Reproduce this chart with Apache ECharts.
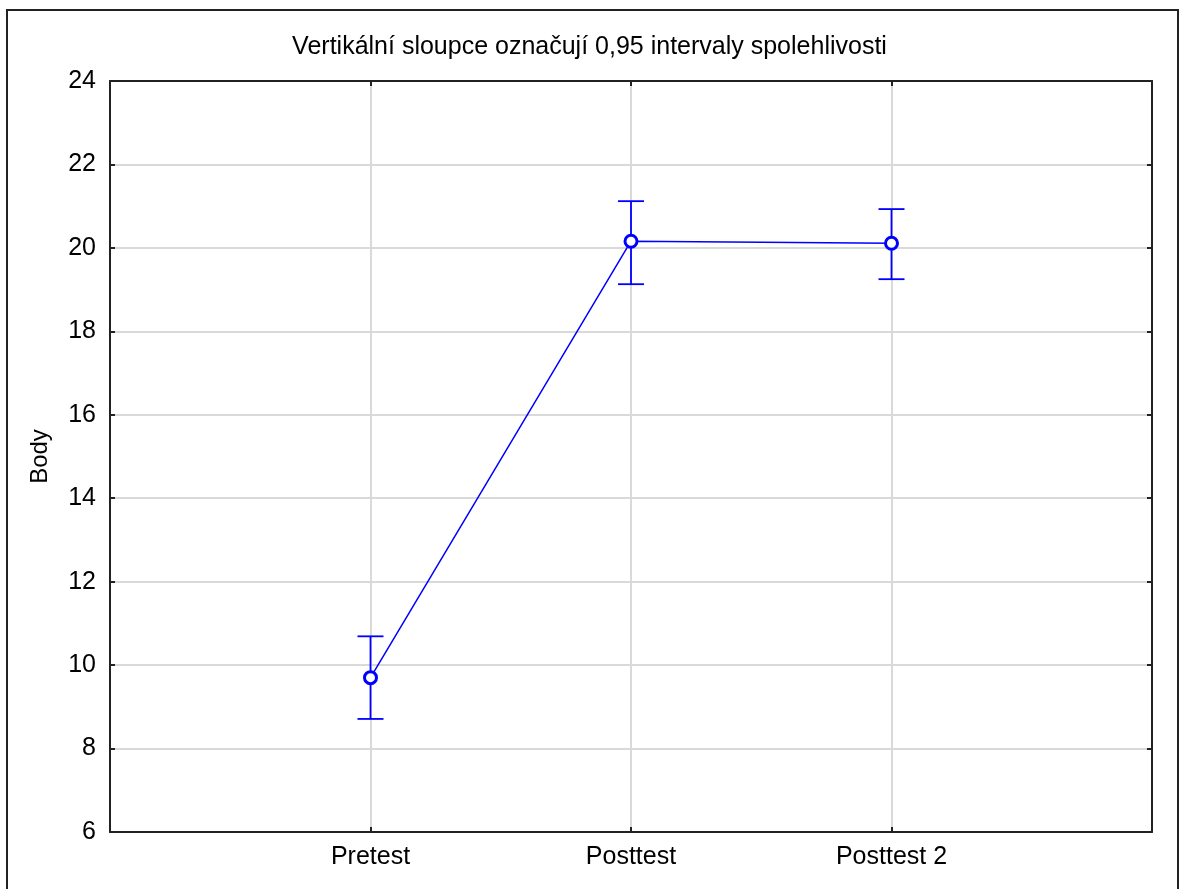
<!DOCTYPE html>
<html>
<head>
<meta charset="utf-8">
<script src="https://cdn.jsdelivr.net/npm/echarts@6/dist/echarts.min.js"></script>
<style>
  html, body { margin: 0; padding: 0; background: #fff; }
  #chart { width: 1179px; height: 889px; }
</style>
</head>
<body>
<div id="chart"></div>
<script>
// categories (blank ends give the empty margins left and right)
var categories = ["", "Pretest", "Posttest", "Posttest 2", ""];
var means = ["-", 9.70, 20.16, 20.11, "-"];
var ciLow = [8.71, 19.13, 19.25];
var ciHigh = [10.69, 21.12, 20.93];
var ciIndex = [1, 2, 3];
var yTicks = { min: 6, max: 24, interval: 2 };

var blue = "#0000ff";
var font = "Liberation Sans, Arial, sans-serif";

var errData = ciIndex.map(function (c, i) {
  return [c, ciLow[i], ciHigh[i]];
});

var myChart = echarts.init(document.getElementById("chart"));
var option = {
  animation: false,
  title: {
    text: "Vertikální sloupce označují 0,95 intervaly spolehlivosti",
    left: "center",
    top: 30,
    textStyle: { fontFamily: font, fontSize: 25, fontWeight: "normal", color: "#000" }
  },
  graphic: [{
    type: "rect",
    shape: { x: 7, y: 10, width: 1171, height: 900 },
    style: { fill: "none", stroke: "#222", lineWidth: 2 },
    silent: true
  }],
  grid: { left: 110, right: 27, top: 81, bottom: 57, show: false },
  xAxis: [{
    type: "category",
    data: categories,
    boundaryGap: false,
    axisLine: { lineStyle: { color: "#222", width: 2 } },
    axisTick: { inside: true, length: 5, lineStyle: { color: "#222", width: 2 } },
    axisLabel: { fontFamily: font, fontSize: 25, color: "#000", margin: 13 },
    splitLine: { show: true, lineStyle: { color: "#d9d9d9", width: 2 } }
  }, {
    type: "category",
    data: categories,
    position: "top",
    boundaryGap: false,
    axisLine: { lineStyle: { color: "#222", width: 2 } },
    axisTick: { inside: true, length: 5, lineStyle: { color: "#222", width: 2 } },
    axisLabel: { show: false },
    splitLine: { show: false }
  }],
  yAxis: [{
    type: "value",
    min: yTicks.min, max: yTicks.max, interval: yTicks.interval,
    name: "Body",
    nameLocation: "middle",
    nameGap: 58,
    nameTextStyle: { fontFamily: font, fontSize: 24, color: "#000" },
    axisLine: { show: true, lineStyle: { color: "#222", width: 2 } },
    axisTick: { show: true, inside: true, length: 5, lineStyle: { color: "#222", width: 2 } },
    axisLabel: { fontFamily: font, fontSize: 25, color: "#000", margin: 14 },
    splitLine: { show: true, lineStyle: { color: "#d9d9d9", width: 2 } }
  }, {
    type: "value",
    position: "right",
    min: yTicks.min, max: yTicks.max, interval: yTicks.interval,
    axisLine: { show: true, lineStyle: { color: "#222", width: 2 } },
    axisTick: { show: true, inside: true, length: 5, lineStyle: { color: "#222", width: 2 } },
    axisLabel: { show: false },
    splitLine: { show: false }
  }],
  series: [{
    type: "custom",
    data: errData,
    z: 3,
    renderItem: function (params, api) {
      var x = api.value(0);
      var lo = api.coord([x, api.value(1)]);
      var hi = api.coord([x, api.value(2)]);
      var half = 13;
      var st = { stroke: blue, lineWidth: 1.8 };
      return {
        type: "group",
        children: [
          { type: "line", shape: { x1: hi[0], y1: hi[1], x2: lo[0], y2: lo[1] }, style: st },
          { type: "line", shape: { x1: hi[0] - half, y1: hi[1], x2: hi[0] + half, y2: hi[1] }, style: st },
          { type: "line", shape: { x1: lo[0] - half, y1: lo[1], x2: lo[0] + half, y2: lo[1] }, style: st }
        ]
      };
    }
  }, {
    type: "line",
    data: means,
    z: 4,
    symbol: "circle",
    symbolSize: 12,
    lineStyle: { color: blue, width: 1.5 },
    itemStyle: { color: "#fff", borderColor: blue, borderWidth: 3 }
  }]
};
myChart.setOption(option);
</script>
</body>
</html>
